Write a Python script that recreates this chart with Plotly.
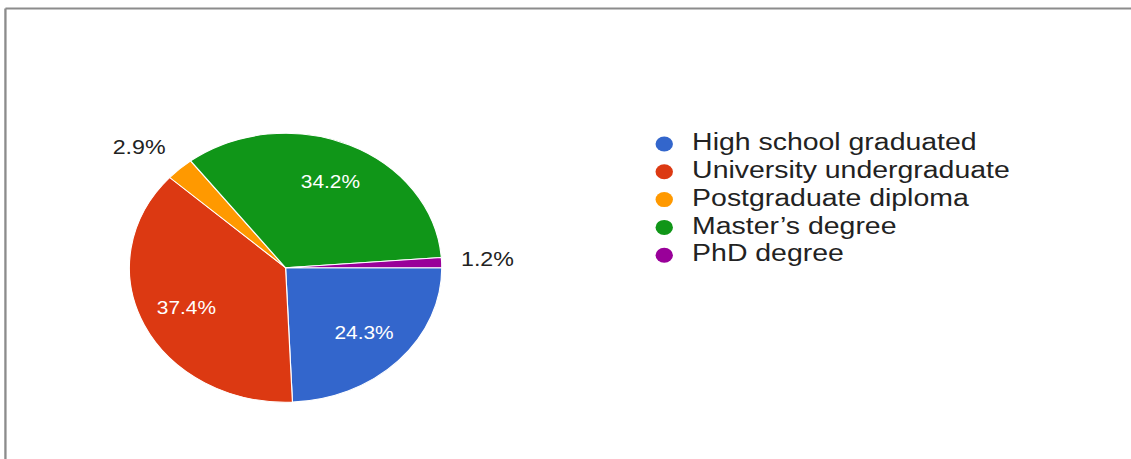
import math
import plotly.graph_objects as go

# Education level breakdown
categories = [
    "High school graduated",
    "University undergraduate",
    "Postgraduate diploma",
    "Master\u2019s degree",
    "PhD degree",
]
shares = [24.3, 37.4, 2.9, 34.2, 1.2]
colors = ["#3366cc", "#dc3912", "#ff9900", "#109618", "#990099"]
key_rows = list(range(len(categories)))

FONT = "Liberation Sans, Arial, sans-serif"
W, H = 974, 459          # drawing size before the horizontal stretch
STRETCH = 1131 / W

PIE_X = [0.1144, 0.3906]
PIE_Y = [0.1237, 0.7098]
SMALL_SLICE = 5.0        # slices below this share get their label outside
OUTSIDE_GAP = 15         # px between the rim and an outside label
OUTSIDE_HALF_H = 8       # half the visual height of an outside label, px
OUTSIDE_LIFT = 3         # text box middle sits a little below the glyph centre

fig = go.Figure()

fig.add_trace(go.Pie(
    labels=categories,
    values=shares,
    sort=False,
    direction="clockwise",
    rotation=90,
    marker=dict(colors=colors, line=dict(color="white", width=1)),
    textinfo="none",
    hoverinfo="label+percent",
    showlegend=False,
    domain=dict(x=PIE_X, y=PIE_Y),
))

# Percentage labels placed along each slice's middle angle
cx = (PIE_X[0] + PIE_X[1]) / 2
cy = (PIE_Y[0] + PIE_Y[1]) / 2
radius = min((PIE_X[1] - PIE_X[0]) * W, (PIE_Y[1] - PIE_Y[0]) * H) / 2
total = sum(shares)
annotations = []
start = 0.0
for share in shares:
    mid = (start + share / 2) / total
    start += share
    theta = 2 * math.pi * mid            # clockwise from 3 o'clock
    c, s = math.cos(theta), math.sin(theta)
    if share >= SMALL_SLICE:
        dist = 0.70 * radius
        dx, dy = dist * c, dist * s
        xanchor = "center"
        font = dict(family=FONT, size=18, color="#ffffff")
    else:
        dist = radius + OUTSIDE_GAP
        m = max(abs(c), abs(s))
        dx = dist * c
        dy = dist * s + OUTSIDE_HALF_H * s / m - OUTSIDE_LIFT
        xanchor = "left" if c >= 0 else "right"
        font = dict(family=FONT, size=20, color="#222222")
    annotations.append(dict(
        x=cx + dx / W, y=cy - dy / H,
        xref="paper", yref="paper",
        xanchor=xanchor, yanchor="middle",
        text=f"{share:.1f}%",
        showarrow=False,
        font=font,
    ))

# Key: coloured dots with the category names beside them
fig.add_trace(go.Scatter(
    x=[0] * len(categories), y=key_rows,
    mode="markers",
    marker=dict(symbol="circle", size=15, color=colors),
    hoverinfo="skip", showlegend=False, cliponaxis=False,
))
fig.add_trace(go.Scatter(
    x=[1] * len(categories), y=key_rows,
    mode="text", text=categories, textposition="middle right",
    textfont=dict(size=24.5, color="#222222", family=FONT),
    hoverinfo="skip", showlegend=False, cliponaxis=False,
))

fig.update_layout(
    width=W, height=H,
    margin=dict(l=0, r=0, t=0, b=0),
    paper_bgcolor="white", plot_bgcolor="white",
    showlegend=False,
    font=dict(family=FONT),
    annotations=annotations,
    xaxis=dict(domain=[0.5873, 0.8337], range=[0, 10], visible=False, fixedrange=True),
    yaxis=dict(domain=[0.4137, 0.7166], range=[4.5, -0.5], visible=False, fixedrange=True),
    shapes=[
        dict(type="line", xref="paper", yref="paper", x0=0.0048, x1=1.05,
             y0=1 - 8.5 / H, y1=1 - 8.5 / H, line=dict(color="#8c8c8c", width=2)),
        dict(type="line", xref="paper", yref="paper", x0=0.0048, x1=0.0048,
             y0=-0.05, y1=1 - 8.5 / H, line=dict(color="#8c8c8c", width=2)),
    ],
)

stretch_js = (
    "document.body.style.margin='0';"
    "var gd=document.getElementById('{plot_id}');"
    "gd.style.transformOrigin='0 0';"
    "gd.style.transform='scaleX(%.4f)';" % STRETCH
)

fig.write_html("out.html", post_script=stretch_js, config={"displayModeBar": False})
